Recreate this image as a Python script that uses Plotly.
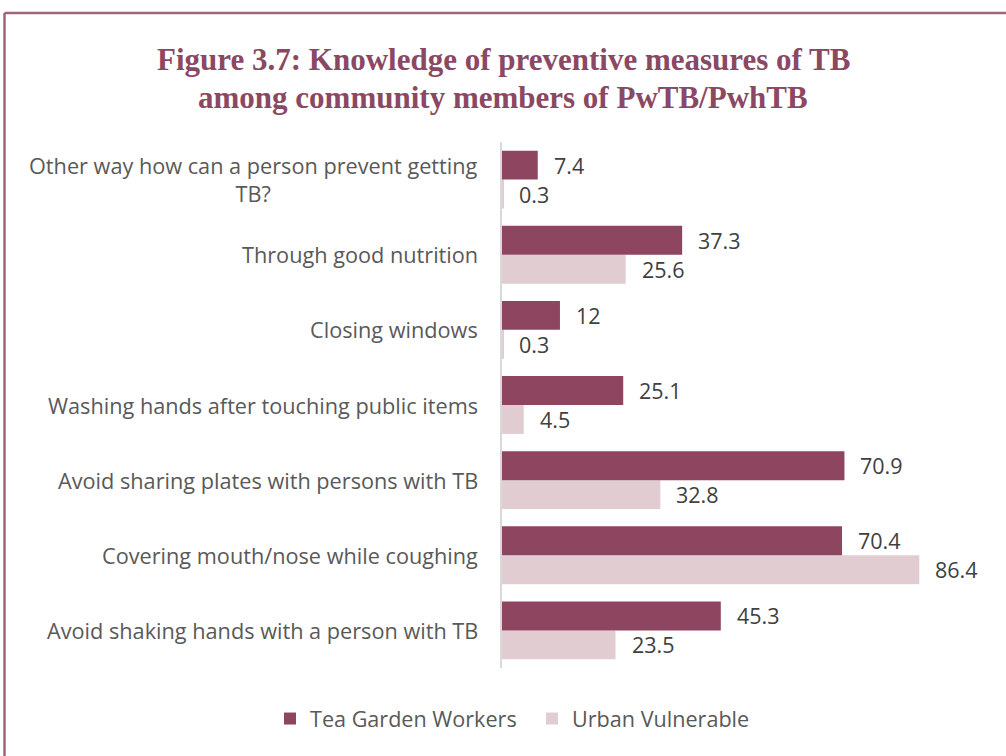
import plotly.graph_objects as go

# Preventive measures, listed bottom to top as drawn on the category axis
categories = [
    "Avoid shaking hands with a person with TB",
    "Covering mouth/nose while coughing",
    "Avoid sharing plates with persons with TB",
    "Washing hands after touching public items",
    "Closing windows",
    "Through good nutrition",
    "Other way how can a person prevent getting<br>TB?",
]
tea_garden = [45.3, 70.4, 70.9, 25.1, 12, 37.3, 7.4]
urban_vulnerable = [23.5, 86.4, 32.8, 4.5, 0.3, 25.6, 0.3]

series_names = ["Tea Garden Workers", "Urban Vulnerable"]
series_colors = ["#8E4660", "#E1CDD1"]

title_lines = [
    "Figure 3.7: Knowledge of preventive measures of TB",
    "among community members of PwTB/PwhTB",
]

W, H = 1006, 756
ML, MR, MT, MB = 502, 21, 142, 88
plot_w = W - ML - MR
plot_h = H - MT - MB

BARGAP = 0.23
SANS = "Open Sans, sans-serif"
cat_font = dict(family=SANS, size=21.7, color="#595959")
val_font = dict(family=SANS, size=21.5, color="#404040")
leg_font = dict(family=SANS, size=21.6, color="#595959")
title_font = dict(family="Liberation Serif, serif", size=31, color="#8B4862", weight="bold")

fig = go.Figure()
# Urban first so that in each group Tea Garden sits on top
fig.add_trace(go.Bar(
    y=categories, x=urban_vulnerable, orientation="h",
    name=series_names[1], marker=dict(color=series_colors[1], line=dict(width=0)),
    legend="legend2",
))
fig.add_trace(go.Bar(
    y=categories, x=tea_garden, orientation="h",
    name=series_names[0], marker=dict(color=series_colors[0], line=dict(width=0)),
    legend="legend",
))

# centre offset of each bar within its group
bar_off = (1 - BARGAP) / 4

px = lambda p: (p - ML) / plot_w
py = lambda p: 1 - (p - MT) / plot_h

annotations = []
for i, cat in enumerate(categories):
    # value labels just past the end of each bar
    for vals, off in ((tea_garden, bar_off), (urban_vulnerable, -bar_off)):
        annotations.append(dict(
            x=vals[i], y=i + off, xref="x", yref="y",
            text=f"{vals[i]:g}", showarrow=False, xanchor="left",
            xshift=14, font=val_font,
        ))
    # category label, wrapped lines centred on each other
    annotations.append(dict(
        x=0, y=i, xref="paper", yref="y", text=cat, showarrow=False,
        xanchor="right", align="center", xshift=-22, font=cat_font,
    ))

# two-line title centred on the page
for line, yc in zip(title_lines, (59, 97)):
    annotations.append(dict(
        x=px(W / 2), y=py(yc), xref="paper", yref="paper", text=line,
        showarrow=False, xanchor="center", yanchor="middle", font=title_font,
    ))

# frame around the figure: left and top edges visible, others run off the page
frame_color = "#A0637A"
shapes = [
    dict(type="line", xref="paper", yref="paper", x0=px(4.5), x1=px(1100),
         y0=py(13), y1=py(13), line=dict(color=frame_color, width=2.5)),
    dict(type="line", xref="paper", yref="paper", x0=px(4.5), x1=px(4.5),
         y0=py(13), y1=py(900), line=dict(color=frame_color, width=2.5)),
]

legend_common = dict(
    orientation="h", xref="container", xanchor="left",
    y=1 - 719 / H, yref="container", yanchor="middle",
    font=leg_font, itemwidth=30, bgcolor="rgba(0,0,0,0)",
)

fig.update_layout(
    width=W, height=H,
    margin=dict(l=ML, r=MR, t=MT, b=MB),
    paper_bgcolor="white", plot_bgcolor="white",
    barmode="group", bargap=BARGAP, bargroupgap=0,
    xaxis=dict(range=[0, 100], visible=False, fixedrange=True),
    yaxis=dict(
        showticklabels=False, ticks="", showgrid=False,
        showline=True, linecolor="#D9D9D9", linewidth=2,
        range=[-0.5, len(categories) - 0.5],
    ),
    legend=dict(x=270 / W, **legend_common),
    legend2=dict(x=532 / W, **legend_common),
    annotations=annotations,
    shapes=shapes,
    showlegend=True,
)

fig.write_html("out.html")
